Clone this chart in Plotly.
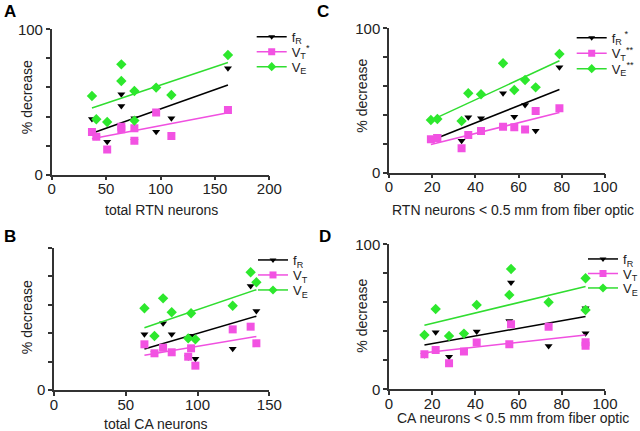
import numpy as np
import plotly.graph_objects as go

# ---------------- data ----------------
# Panel A: total RTN neurons
a_x = [37, 41, 51, 64, 64, 76, 76, 96, 110, 162]
a_fR = [38.3, 26.1, 22.7, 55.3, 47.2, 38.8, 23.4, 29.6, 38.8, 73.2]
a_VT = [29.4, 26.1, 17.4, 33.0, 31.2, 31.9, 23.4, 42.7, 26.6, 44.5]
a_VE = [54.1, 38.1, 36.2, 75.9, 64.4, 57.6, 37.2, 59.9, 54.8, 82.3]

# Panel B: total CA neurons
b_x = [63, 70, 76, 82, 93.5, 95.5, 98.5, 124.5, 137, 141]
b_fR = [39.1, 25.8, 46.9, 39.1, 23.0, 38.2, 22.0, 29.0, 73.1, 55.5]
b_VT = [32.1, 25.8, 29.7, 26.5, 23.4, 29.3, 17.1, 42.6, 44.5, 32.8]
b_VE = [57.4, 37.9, 64.4, 54.6, 36.3, 53.9, 35.6, 59.2, 82.7, 75.7]

# Panel C: RTN neurons < 0.5 mm from fiber optic
c_x = [19.4, 22.4, 33.6, 36.7, 42.6, 52.8, 58.0, 63.0, 67.9, 78.9]
c_fR = [23.3, 25.4, 22.2, 38.4, 37.7, 55.0, 38.8, 46.9, 29.1, 73.0]
c_VT = [23.1, 24.0, 16.9, 26.1, 28.9, 31.9, 31.4, 30.0, 42.7, 44.6]
c_VE = [36.5, 37.2, 35.8, 55.0, 54.3, 75.8, 57.3, 64.2, 59.1, 82.2]

# Panel D: CA neurons < 0.5 mm from fiber optic
d_x = [16.4, 21.6, 27.8, 34.7, 40.6, 55.7, 56.5, 73.9, 91.0, 91.0]
d_fR = [23.7, 39.3, 22.5, 26.4, 39.8, 47.1, 73.6, 29.9, 55.9, 38.6]
d_VT = [24.1, 27.1, 17.9, 26.0, 32.2, 31.0, 44.8, 43.2, 32.4, 30.1]
d_VE = [37.5, 55.4, 36.8, 38.4, 58.2, 65.1, 83.0, 60.0, 76.6, 54.7]

series_names = ["fR", "VT", "VE"]
legend_labels = {
    "A": ["f<sub>R</sub>", "V<sub>T</sub><sup>*</sup>", "V<sub>E</sub>"],
    "B": ["f<sub>R</sub>", "V<sub>T</sub>", "V<sub>E</sub>"],
    "C": ["f<sub>R</sub><sup> *</sup>", "V<sub>T</sub><sup>**</sup>", "V<sub>E</sub><sup>**</sup>"],
    "D": ["f<sub>R</sub>", "V<sub>T</sub>", "V<sub>E</sub>"],
}
x_titles = {
    "A": "total RTN neurons",
    "B": "total CA neurons",
    "C": "RTN neurons < 0.5 mm from fiber optic",
    "D": "CA neurons < 0.5 mm from fiber optic",
}

# ---------------- style ----------------
W, H = 640, 431
FONT = "Liberation Sans, Arial, sans-serif"
COLORS = {"fR": "#000000", "VT": "#f252e2", "VE": "#2de82d"}
LINECOLORS = {"fR": "#000000", "VT": "#f050e0", "VE": "#30dd30"}
SYMBOLS = {"fR": "triangle-down", "VT": "square", "VE": "diamond"}
SIZES = {"fR": 7, "VT": 8, "VE": 8}


def px_x(p):
    return p / W


def px_y(p):
    return 1 - p / H


# pixel boxes of the plot areas: (left, right, top, bottom)
boxes = {
    "A": (51.7, 269.3, 29.3, 174.7),
    "B": (54.0, 269.3, 247.7, 390.0),
    "C": (389.0, 605.0, 28.3, 172.7),
    "D": (389.0, 605.0, 244.3, 389.3),
}
xranges = {"A": [0, 200], "B": [0, 150], "C": [0, 100], "D": [0, 100]}
xticks = {"A": [0, 50, 100, 150, 200], "B": [0, 50, 100, 150],
          "C": [0, 20, 40, 60, 80, 100], "D": [0, 20, 40, 60, 80, 100]}
ytext = {"A": ["0", "", "", "", "", "100"], "B": ["0", "", "", "", "", ""],
         "C": ["0", "", "", "", "", "100"], "D": ["0", "", "", "", "", "100"]}

panel_data = {
    "A": (a_x, {"fR": a_fR, "VT": a_VT, "VE": a_VE}),
    "B": (b_x, {"fR": b_fR, "VT": b_VT, "VE": b_VE}),
    "C": (c_x, {"fR": c_fR, "VT": c_VT, "VE": c_VE}),
    "D": (d_x, {"fR": d_fR, "VT": d_VT, "VE": d_VE}),
}
axis_ids = {"A": "", "B": "2", "C": "3", "D": "4"}
# legend text start (px), first row center (px), row step (px)
legend_pos = {"A": (291.7, 36.7, 15.0), "B": (293.0, 260.0, 15.0),
              "C": (611.7, 37.7, 15.5), "D": (623.0, 259.0, 14.5)}
title_pos = {  # x-title center (px), y center; y-title center x, y
    "A": ((161, 210), (26.7, 97.5)),
    "B": ((156, 424), (26.7, 317.5)),
    "C": ((513, 210), (361.7, 96)),
    "D": ((513, 417.5), (361.7, 316)),
}
letter_pos = {"A": (10, 12), "B": (10, 236), "C": (323, 12), "D": (325, 236)}

fig = go.Figure()
layout = dict(
    width=W, height=H, margin=dict(l=0, r=0, t=0, b=0, pad=0, autoexpand=False),
    paper_bgcolor="white", plot_bgcolor="white",
    font=dict(family=FONT, color="#222222"),
    showlegend=True, annotations=[],
)

leg_counter = 0
for p in ["A", "B", "C", "D"]:
    aid = axis_ids[p]
    xs, ys = panel_data[p]
    xs_arr = np.array(xs, dtype=float)
    lx, ly, lstep = legend_pos[p]
    for i, s in enumerate(series_names):
        yv = np.array(ys[s], dtype=float)
        # regression line (drawn from data)
        k, b0 = np.polyfit(xs_arr, yv, 1)
        xl = np.array([xs_arr.min(), xs_arr.max()])
        fig.add_trace(go.Scatter(
            x=xl, y=k * xl + b0, mode="lines",
            line=dict(color=LINECOLORS[s], width=1.5),
            xaxis="x" + aid, yaxis="y" + aid, showlegend=False, hoverinfo="skip"))
        fig.add_trace(go.Scatter(
            x=xs, y=ys[s], mode="markers",
            marker=dict(symbol=SYMBOLS[s], size=SIZES[s], color=COLORS[s], line=dict(width=0)),
            xaxis="x" + aid, yaxis="y" + aid, showlegend=False))
        # legend entry: one legend per entry so that rows are placed exactly
        leg_counter += 1
        lid = "legend" if leg_counter == 1 else "legend%d" % leg_counter
        fig.add_trace(go.Scatter(
            x=[None], y=[None], mode="lines+markers", name=legend_labels[p][i],
            line=dict(color=LINECOLORS[s], width=1.5),
            marker=dict(symbol=SYMBOLS[s], size=SIZES[s] - 1, color=COLORS[s]),
            xaxis="x" + aid, yaxis="y" + aid, legend=lid))
        layout[lid] = dict(
            x=px_x(lx - 40), y=px_y(ly + i * lstep), xanchor="left", yanchor="middle",
            bgcolor="rgba(0,0,0,0)", borderwidth=0, tracegroupgap=0,
            font=dict(size=13, family=FONT, color="#222222"), itemwidth=30,
        )

    l, r, t, bt = boxes[p]
    layout["xaxis" + aid] = dict(
        domain=[px_x(l), px_x(r)], range=xranges[p], anchor="y" + aid,
        tickvals=xticks[p], showgrid=False, zeroline=False,
        showline=True, linecolor="#333333", linewidth=1.5,
        ticks="outside", ticklen=4, tickwidth=1.5, tickcolor="#333333",
        tickfont=dict(size=15, family=FONT, color="#222222"), ticklabelstandoff=-4,
        automargin=False,
    )
    layout["yaxis" + aid] = dict(
        domain=[px_y(bt), px_y(t)], range=[0, 100], anchor="x" + aid,
        tickvals=[0, 20, 40, 60, 80, 100], ticktext=ytext[p],
        showgrid=False, zeroline=False,
        showline=True, linecolor="#333333", linewidth=1.5,
        ticks="outside", ticklen=4, tickwidth=1.5, tickcolor="#333333",
        tickfont=dict(size=15, family=FONT, color="#222222"), ticklabelstandoff=0,
        automargin=False,
    )
    (xtx, xty), (ytx, yty) = title_pos[p]
    layout["annotations"].append(dict(
        text=x_titles[p], x=px_x(xtx), y=px_y(xty), xref="paper", yref="paper",
        xanchor="center", yanchor="middle", showarrow=False,
        font=dict(size=14, family=FONT, color="#222222")))
    layout["annotations"].append(dict(
        text="% decrease", x=px_x(ytx), y=px_y(yty), xref="paper", yref="paper",
        xanchor="center", yanchor="middle", showarrow=False, textangle=-90,
        font=dict(size=14, family=FONT, color="#222222")))
    lpx, lpy = letter_pos[p]
    layout["annotations"].append(dict(
        text="<b>%s</b>" % p, x=px_x(lpx), y=px_y(lpy), xref="paper", yref="paper",
        xanchor="center", yanchor="middle", showarrow=False,
        font=dict(size=17, family=FONT, color="#000000")))

fig.update_layout(**layout)
fig.write_html("out.html", config={"displayModeBar": False},
               post_script="document.body.style.margin='0';")
